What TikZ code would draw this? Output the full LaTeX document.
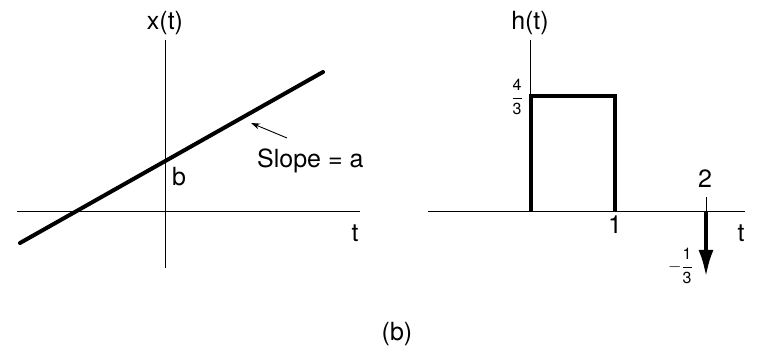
\documentclass[tikz,border=0pt]{standalone}
\usepackage{amsmath}
\usepackage{fontspec}
\setmainfont{TeX Gyre Heros}
\usetikzlibrary{arrows.meta,positioning}

\begin{document}
\begin{tikzpicture}[x=1pt,y=1pt,every node/.style={font=\fontsize{25}{28}\selectfont,inner sep=1pt},
  axis/.style={line width=0.8pt},sig/.style={line width=4pt},frac/.style={font=\fontsize{16}{18}\selectfont}]
\useasboundingbox (0,0) rectangle (761,356);
% x(t)
\coordinate (xl) at (17,145); \coordinate (xr) at (360,145);
\coordinate (xb) at (165,88); \coordinate (xt) at (165,316);
\draw[axis] (xl)--(xr); \draw[axis] (xb)--(xt);
\node (xlab) at (165,333) {x(t)};
\node (tl) at (355,123) {t};
\coordinate (la) at (20,113); \coordinate (lb) at (323,284);
\draw[sig,line cap=round] (la)--(lb);
\node[anchor=west] (b) at (171,179) {b};
\node[anchor=west] (slope) at (256,195) {Slope = a};
\coordinate (tip) at (251,233);
\draw[line width=0.9pt,-{Stealth[length=9pt,width=6pt]}] (287,218)--(tip);
% h(t)
\coordinate (hl) at (428,145); \coordinate (hr) at (745,145);
\coordinate (ho) at (530,145); \coordinate (ht) at (530,316);
\draw[axis] (hl)--(hr); \draw[axis] (ho)--(ht);
\node (hlab) at (530,333) {h(t)};
\node (th) at (741,123) {t};
\draw[sig] (531,145)--(531,260)--(615,260)--(615,145);
\node[anchor=east,frac] (four) at (524,259) {$\dfrac{\text{4}}{\text{3}}$};
\node (one) at (615,131) {1};
\node (two) at (705,177) {2};
\coordinate (dtop) at (706,159); \coordinate (dz) at (706,145); \coordinate (dtip) at (706,79);
\draw[axis] (dtop)--(dz);
\draw[line width=4pt,-{Latex[length=27pt,width=15pt]}] (dz)--(dtip);
\node[anchor=east,frac] (third) at (694,90) {$-\dfrac{\text{1}}{\text{3}}$};
\node (cap) at (397,22) {(b)};
\end{tikzpicture}
\end{document}
